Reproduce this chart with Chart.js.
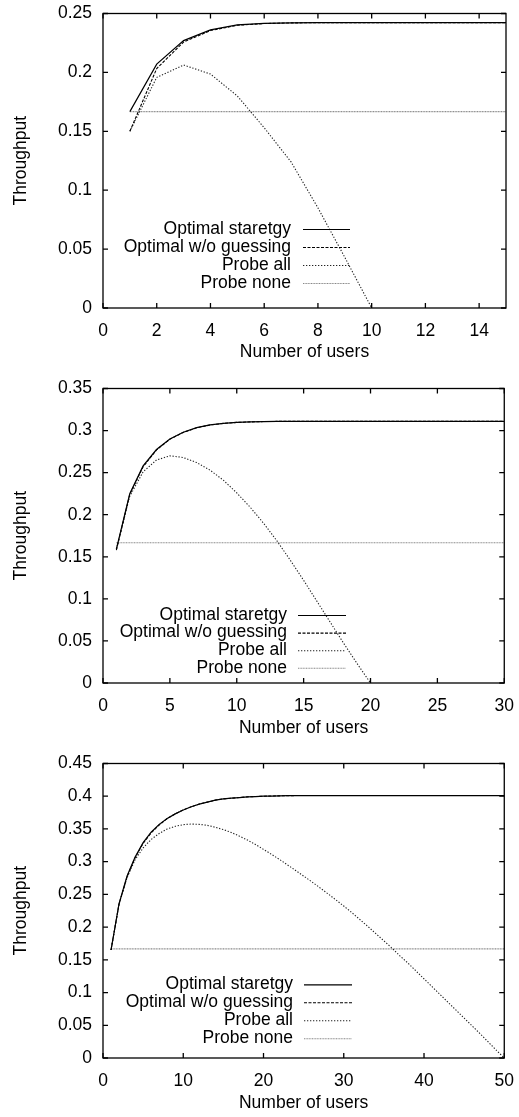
<!DOCTYPE html>
<html>
<head>
<meta charset="utf-8">
<script src="https://cdn.jsdelivr.net/npm/chart.js@4.4.0/dist/chart.umd.min.js"></script>
<style>
body { margin: 0; background: #fff; }
canvas { display: block; }
</style>
</head>
<body>
<canvas id="c1" width="519" height="375"></canvas>
<canvas id="c2" width="519" height="375"></canvas>
<canvas id="c3" width="519" height="367"></canvas>
<script>
const seriesNames = ['Optimal staretgy', 'Optimal w/o guessing', 'Probe all', 'Probe none'];

// chart 1: up to 15 users
const users1 = [1, 2, 3, 4, 5, 6, 7, 8, 9, 10, 11, 12, 13, 14, 15];
const optimal1 = [0.1667, 0.207, 0.227, 0.2361, 0.2403, 0.2417, 0.2421, 0.2422, 0.2422, 0.2422, 0.2422, 0.2422, 0.2422, 0.2422, 0.2422];
const noGuess1 = [0.150, 0.2033, 0.2258, 0.2355, 0.2400, 0.2415, 0.2420, 0.2422, 0.2422, 0.2422, 0.2422, 0.2422, 0.2422, 0.2422, 0.2422];
const probeAllUsers1 = [1, 2, 3, 4, 5, 6, 7, 8, 9, 10];
const probeAll1 = [0.150, 0.1958, 0.2063, 0.1986, 0.180, 0.153, 0.124, 0.085, 0.043, 0.0];
const probeNoneUsers1 = [1, 15];
const probeNone1 = [0.1667, 0.1667];
const yTicks1 = { max: 0.25, step: 0.05 };
const xTicks1 = { max: 15, step: 2 };

// chart 2: up to 30 users
const users2 = [1, 2, 3, 4, 5, 6, 7, 8, 9, 10, 11, 12, 13, 14, 15, 16, 17, 18, 19, 20, 21, 22, 23, 24, 25, 26, 27, 28, 29, 30];
const optimal2 = [0.159, 0.225, 0.258, 0.2775, 0.290, 0.298, 0.3035, 0.3067, 0.3086, 0.3097, 0.3103, 0.3107, 0.3109, 0.311, 0.311,
  0.311, 0.311, 0.311, 0.311, 0.311, 0.311, 0.311, 0.311, 0.311, 0.311, 0.311, 0.311, 0.311, 0.311, 0.311];
const noGuess2 = [0.158, 0.224, 0.257, 0.277, 0.2897, 0.2978, 0.3033, 0.3066, 0.3085, 0.3097, 0.3103, 0.3107, 0.3109, 0.311, 0.311,
  0.311, 0.311, 0.311, 0.311, 0.311, 0.311, 0.311, 0.311, 0.311, 0.311, 0.311, 0.311, 0.311, 0.311, 0.311];
const probeAllUsers2 = [1, 2, 3, 4, 5, 6, 7, 8, 9, 10, 11, 12, 13, 14, 15, 16, 17, 18, 19, 20];
const probeAll2 = [0.159, 0.222, 0.251, 0.265, 0.270, 0.268, 0.262, 0.253, 0.241, 0.226, 0.209, 0.190, 0.169, 0.146, 0.122,
  0.097, 0.072, 0.047, 0.023, 0.0];
const probeNoneUsers2 = [1, 30];
const probeNone2 = [0.1667, 0.1667];
const yTicks2 = { max: 0.35, step: 0.05 };
const xTicks2 = { max: 30, step: 5 };

// chart 3: up to 50 users
const users3 = [1, 2, 3, 4, 5, 6, 7, 8, 9, 10, 11, 12, 13, 14, 15, 16, 17, 18, 19, 20, 21, 22, 23, 24, 25,
  26, 27, 28, 29, 30, 31, 32, 33, 34, 35, 36, 37, 38, 39, 40, 41, 42, 43, 44, 45, 46, 47, 48, 49, 50];
const optimal3 = [0.165, 0.236, 0.278, 0.307, 0.329, 0.345, 0.357, 0.366, 0.373, 0.379, 0.384, 0.388, 0.391, 0.394, 0.396,
  0.397, 0.398, 0.399, 0.3995, 0.400, 0.4003, 0.4006, 0.4008, 0.401, 0.401, 0.401, 0.401, 0.401, 0.401, 0.401,
  0.401, 0.401, 0.401, 0.401, 0.401, 0.401, 0.401, 0.401, 0.401, 0.401, 0.401, 0.401, 0.401, 0.401, 0.401,
  0.401, 0.401, 0.401, 0.401, 0.401];
const noGuess3 = [0.165, 0.235, 0.277, 0.306, 0.328, 0.344, 0.356, 0.366, 0.373, 0.379, 0.384, 0.388, 0.391, 0.394, 0.396,
  0.397, 0.398, 0.399, 0.3995, 0.400, 0.4003, 0.4006, 0.4008, 0.401, 0.401, 0.401, 0.401, 0.401, 0.401, 0.401,
  0.401, 0.401, 0.401, 0.401, 0.401, 0.401, 0.401, 0.401, 0.401, 0.401, 0.401, 0.401, 0.401, 0.401, 0.401,
  0.401, 0.401, 0.401, 0.401, 0.401];
const probeAll3 = [0.165, 0.235, 0.276, 0.303, 0.321, 0.334, 0.343, 0.350, 0.354, 0.3565, 0.3575, 0.357, 0.3555, 0.3525, 0.349,
  0.3445, 0.339, 0.333, 0.3262, 0.3188, 0.3112, 0.3033, 0.295, 0.2866, 0.278, 0.2693, 0.2604, 0.2512, 0.2418, 0.2322,
  0.2222, 0.2117, 0.201, 0.190, 0.179, 0.168, 0.156, 0.145, 0.133, 0.121, 0.109, 0.097, 0.085, 0.073, 0.061,
  0.049, 0.037, 0.0245, 0.012, 0.0];
const probeNoneUsers3 = [1, 50];
const probeNone3 = [0.1667, 0.1667];
const yTicks3 = { max: 0.45, step: 0.05 };
const xTicks3 = { max: 50, step: 10 };

const FONT = { family: '"Liberation Sans", Arial, sans-serif', size: 17.5 };
const lineStyles = [
  { borderColor: '#000', borderWidth: 1.2, borderDash: [] },
  { borderColor: '#000', borderWidth: 1.1, borderDash: [3, 1.5] },
  { borderColor: '#222', borderWidth: 1.1, borderDash: [1.3, 1.7] },
  { borderColor: '#888', borderWidth: 1.1, borderDash: [1, 0.6] }
];

const toPoints = (xs, ys) => xs.map((u, i) => ({ x: u, y: ys[i] }));

// gnuplot-like border, inward ticks and key
const gnuFrame = {
  id: 'gnuFrame',
  afterDatasetsDraw(chart, args, opts) {
    const { ctx, chartArea: a, scales: { x, y } } = chart;
    ctx.save();
    ctx.strokeStyle = '#000';
    ctx.lineWidth = 1.3;
    ctx.setLineDash([]);
    ctx.beginPath();
    x.ticks.forEach(t => {
      const px = x.getPixelForValue(t.value);
      ctx.moveTo(px, a.bottom); ctx.lineTo(px, a.bottom - 5);
      ctx.moveTo(px, a.top); ctx.lineTo(px, a.top + 5);
    });
    y.ticks.forEach(t => {
      const py = y.getPixelForValue(t.value);
      ctx.moveTo(a.left, py); ctx.lineTo(a.left + 5, py);
      ctx.moveTo(a.right, py); ctx.lineTo(a.right - 5, py);
    });
    ctx.stroke();
    ctx.strokeRect(a.left, a.top, a.right - a.left, a.bottom - a.top);

    ctx.font = FONT.size + 'px ' + FONT.family;
    ctx.fillStyle = '#000';
    ctx.textAlign = 'right';
    ctx.textBaseline = 'middle';
    chart.data.datasets.forEach((ds, i) => {
      const ry = opts.rowY + i * opts.rowGap;
      ctx.fillText(ds.label, opts.textRight, ry);
      ctx.beginPath();
      ctx.strokeStyle = ds.borderColor;
      ctx.lineWidth = ds.borderWidth;
      ctx.setLineDash(ds.borderDash);
      ctx.moveTo(opts.sampleFrom, ry + 0.5);
      ctx.lineTo(opts.sampleTo, ry + 0.5);
      ctx.stroke();
    });
    ctx.restore();
  }
};

function makeChart(id, series, yT, xT, key, titleGap) {
  const canvas = document.getElementById(id);
  const h = canvas.height;
  return new Chart(canvas, {
    type: 'line',
    data: {
      datasets: series.map((s, i) => Object.assign({
        label: seriesNames[i],
        data: s,
        pointRadius: 0,
        tension: 0,
        fill: false
      }, lineStyles[i]))
    },
    options: {
      responsive: false,
      animation: false,
      events: [],
      layout: { padding: { top: 8, right: 13, left: 0, bottom: 0 } },
      plugins: {
        legend: { display: false },
        tooltip: { enabled: false },
        gnuFrame: key
      },
      scales: {
        x: {
          type: 'linear',
          min: 0,
          max: xT.max,
          grid: { display: false },
          border: { display: false },
          ticks: { stepSize: xT.step, includeBounds: false, padding: 5, color: '#000', font: FONT, maxRotation: 0 },
          title: { display: true, text: 'Number of users', color: '#000', font: FONT, padding: { top: 0, bottom: titleGap } },
          afterFit: s => { s.height = h - 8 - 300; }
        },
        y: {
          min: 0,
          max: yT.max,
          grid: { display: false },
          border: { display: false },
          ticks: {
            stepSize: yT.step, padding: 3, color: '#000', font: FONT,
            callback: v => String(Number(v.toFixed(2)))
          },
          title: { display: true, text: 'Throughput', color: '#000', font: FONT, padding: { top: 10.5, bottom: 0 } },
          afterFit: s => { s.width = 103; }
        }
      }
    },
    plugins: [gnuFrame]
  });
}

makeChart('c1', [
  toPoints(users1, optimal1),
  toPoints(users1, noGuess1),
  toPoints(probeAllUsers1, probeAll1),
  toPoints(probeNoneUsers1, probeNone1)
], yTicks1, xTicks1, { textRight: 291, sampleFrom: 303, sampleTo: 350, rowY: 229, rowGap: 18 }, 12.5);

makeChart('c2', [
  toPoints(users2, optimal2),
  toPoints(users2, noGuess2),
  toPoints(probeAllUsers2, probeAll2),
  toPoints(probeNoneUsers2, probeNone2)
], yTicks2, xTicks2, { textRight: 287, sampleFrom: 298, sampleTo: 346, rowY: 240, rowGap: 17.6 }, 11.5);

makeChart('c3', [
  toPoints(users3, optimal3),
  toPoints(users3, noGuess3),
  toPoints(users3, probeAll3),
  toPoints(probeNoneUsers3, probeNone3)
], yTicks3, xTicks3, { textRight: 293, sampleFrom: 304, sampleTo: 352, rowY: 234.3, rowGap: 18 }, 3.5);
</script>
</body>
</html>
